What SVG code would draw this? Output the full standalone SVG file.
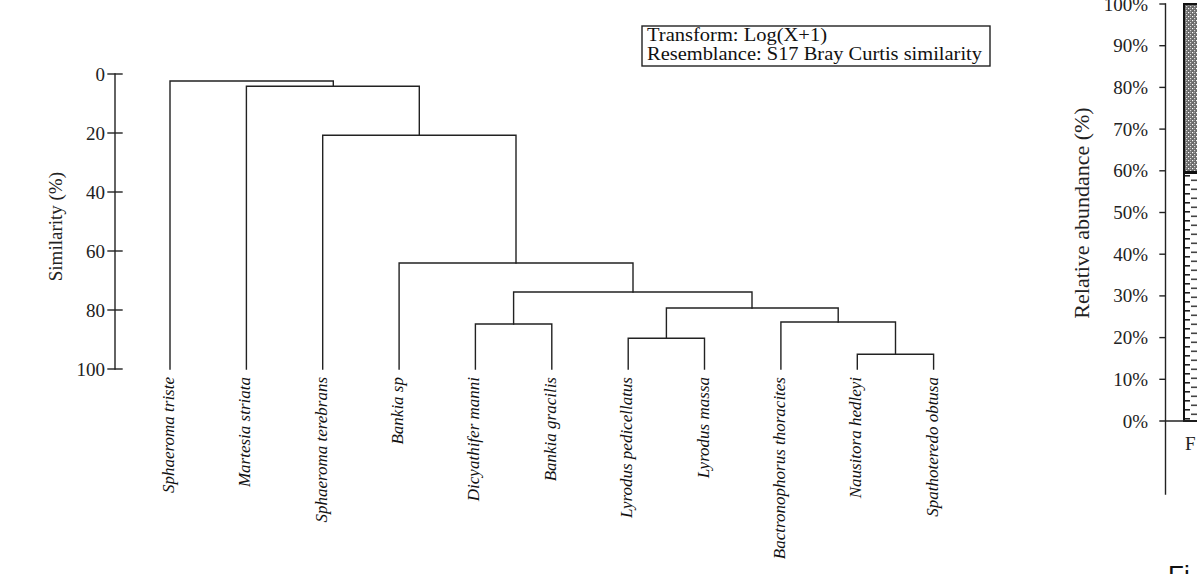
<svg xmlns="http://www.w3.org/2000/svg" width="1197" height="574" viewBox="0 0 1197 574">
<defs>
<style>
.ln{fill:none;stroke:#222;stroke-width:1.4;stroke-linecap:square}
.tk{font-family:"Liberation Serif",serif;font-size:19px;fill:#222;text-anchor:end}
.sp{font-family:"Liberation Serif",serif;font-size:17px;font-style:italic;fill:#111;text-anchor:end}
.lg{font-family:"Liberation Serif",serif;font-size:19px;fill:#111}
.ax{font-family:"Liberation Serif",serif;font-size:19px;fill:#222}
</style>
<pattern id="dots" patternUnits="userSpaceOnUse" x="0" y="0" width="4" height="4">
<rect width="4" height="4" fill="#6a6a6a"/>
<rect x="0" y="0" width="1.2" height="1.2" fill="#fff"/>
<rect x="2" y="2" width="1.2" height="1.2" fill="#ddd"/>
<rect x="2" y="0" width="1" height="1" fill="#999"/>
</pattern>
<pattern id="dash" patternUnits="userSpaceOnUse" x="1183" y="173" width="20" height="9">
<rect width="20" height="9" fill="#fff"/>
<rect x="2" y="2" width="5" height="1.6" fill="#222"/>
<rect x="8" y="6.5" width="6" height="1.6" fill="#444"/>
</pattern>
</defs>

<g id="axis-similarity">
<line class="ln" x1="115" y1="74" x2="115" y2="369"/>
<line class="ln" x1="108" y1="74" x2="122" y2="74"/>
<line class="ln" x1="108" y1="133" x2="122" y2="133"/>
<line class="ln" x1="108" y1="192" x2="122" y2="192"/>
<line class="ln" x1="108" y1="251" x2="122" y2="251"/>
<line class="ln" x1="108" y1="310" x2="122" y2="310"/>
<line class="ln" x1="108" y1="369" x2="122" y2="369"/>
<text class="tk" x="105" y="80.5">0</text>
<text class="tk" x="105" y="139.5">20</text>
<text class="tk" x="105" y="198.5">40</text>
<text class="tk" x="105" y="257.5">60</text>
<text class="tk" x="105" y="316.5">80</text>
<text class="tk" x="105" y="375.5">100</text>
<text class="ax" transform="translate(62,172) rotate(-90)" text-anchor="end">Similarity (%)</text>
</g>

<g id="legend">
<rect x="642" y="26" width="348" height="40" fill="#fff" stroke="#222" stroke-width="1.4"/>
<text class="lg" x="647" y="41" textLength="180" lengthAdjust="spacingAndGlyphs">Transform: Log(X+1)</text>
<text class="lg" x="647" y="60" textLength="335" lengthAdjust="spacingAndGlyphs">Resemblance: S17 Bray Curtis similarity</text>
</g>

<g id="connectors">
<path class="ln" d="M170,369 V81 H333.3 V86.3"/>
<path class="ln" d="M246.4,369 V86.3 H419.3 V135.3"/>
<path class="ln" d="M322.7,369 V135.3 H516 V263"/>
<path class="ln" d="M399.1,369 V263 H633 V292"/>
<path class="ln" d="M513.6,324 V292 H752 V308"/>
<path class="ln" d="M475.4,369 V324 H551.8 V369"/>
<path class="ln" d="M666.4,338.3 V308 H838.2 V322"/>
<path class="ln" d="M628.2,369 V338.3 H704.5 V369"/>
<path class="ln" d="M780.9,369 V322 H895.5 V354.3"/>
<path class="ln" d="M857.3,369 V354.3 H933.6 V369"/>
</g>

<g id="leaf-labels">
<text class="sp" transform="translate(174,377) rotate(-90)">Sphaeroma triste</text>
<text class="sp" transform="translate(250.4,377) rotate(-90)">Martesia striata</text>
<text class="sp" transform="translate(326.7,377) rotate(-90)">Sphaeroma terebrans</text>
<text class="sp" transform="translate(403.1,377) rotate(-90)">Bankia sp</text>
<text class="sp" transform="translate(479.4,377) rotate(-90)">Dicyathifer manni</text>
<text class="sp" transform="translate(555.8,377) rotate(-90)">Bankia gracilis</text>
<text class="sp" transform="translate(632.2,377) rotate(-90)">Lyrodus pedicellatus</text>
<text class="sp" transform="translate(708.5,377) rotate(-90)">Lyrodus massa</text>
<text class="sp" transform="translate(784.9,377) rotate(-90)">Bactronophorus thoracites</text>
<text class="sp" transform="translate(861.3,377) rotate(-90)">Nausitora hedleyi</text>
<text class="sp" transform="translate(937.6,377) rotate(-90)">Spathoteredo obtusa</text>
</g>

<g id="abundance-chart">
<rect x="1184" y="4" width="20" height="168" fill="url(#dots)" stroke="#111" stroke-width="2"/>
<rect x="1184" y="173" width="20" height="248" fill="url(#dash)" stroke="#111" stroke-width="2"/>
<line x1="1184" y1="172.5" x2="1197" y2="172.5" stroke="#111" stroke-width="2.2"/>
<line class="ln" x1="1165.5" y1="4" x2="1165.5" y2="494"/>
<line class="ln" x1="1160" y1="421" x2="1197" y2="421"/>
<line class="ln" x1="1160" y1="4" x2="1165" y2="4"/>
<line class="ln" x1="1160" y1="45.7" x2="1165" y2="45.7"/>
<line class="ln" x1="1160" y1="87.4" x2="1165" y2="87.4"/>
<line class="ln" x1="1160" y1="129.1" x2="1165" y2="129.1"/>
<line class="ln" x1="1160" y1="170.8" x2="1165" y2="170.8"/>
<line class="ln" x1="1160" y1="212.5" x2="1165" y2="212.5"/>
<line class="ln" x1="1160" y1="254.2" x2="1165" y2="254.2"/>
<line class="ln" x1="1160" y1="295.9" x2="1165" y2="295.9"/>
<line class="ln" x1="1160" y1="337.6" x2="1165" y2="337.6"/>
<line class="ln" x1="1160" y1="379.3" x2="1165" y2="379.3"/>
<text class="tk" x="1148" y="10.5">100%</text>
<text class="tk" x="1148" y="52.2">90%</text>
<text class="tk" x="1148" y="93.9">80%</text>
<text class="tk" x="1148" y="135.6">70%</text>
<text class="tk" x="1148" y="177.3">60%</text>
<text class="tk" x="1148" y="219">50%</text>
<text class="tk" x="1148" y="260.7">40%</text>
<text class="tk" x="1148" y="302.4">30%</text>
<text class="tk" x="1148" y="344.1">20%</text>
<text class="tk" x="1148" y="385.8">10%</text>
<text class="tk" x="1148" y="427.5">0%</text>
<text class="ax" style="font-size:22px" transform="translate(1089,213) rotate(-90)" text-anchor="middle">Relative abundance (%)</text>
<text class="ax" x="1185" y="450">F</text>
</g>

<text x="1168" y="584" style="font-family:'Liberation Sans',Arial,sans-serif;font-size:26px;fill:#111">Fi</text>
</svg>
